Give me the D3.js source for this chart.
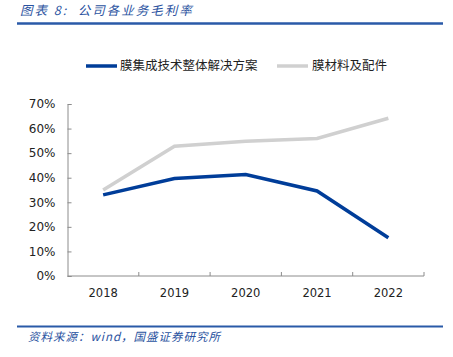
<!DOCTYPE html>
<html><head><meta charset="utf-8">
<script src="https://cdn.jsdelivr.net/npm/d3@7"></script>
<style>body{margin:0;background:#fff;}svg{display:block;}</style>
</head><body>
<script>
const years = ["2018","2019","2020","2021","2022"];
const membraneSolution = [33.0, 39.7, 41.3, 34.6, 15.6];
const membraneMaterials = [35.0, 52.8, 54.8, 56.0, 64.2];
const seriesNames = ["膜集成技术整体解决方案","膜材料及配件"];
const yTicks = [0,10,20,30,40,50,60,70];

const W=453,H=357;
const svg=d3.select("body").append("svg").attr("width",W).attr("height",H);
const cjk='"Noto Sans CJK SC", sans-serif';
const titleFont='"Noto Sans CJK SC", "Noto Sans", sans-serif';

// title
svg.append("text").attr("x",20).attr("y",15).attr("fill","#2a52a0")
  .attr("font-family",titleFont).attr("font-size",12.5).attr("font-style","italic")
  .attr("letter-spacing",2).attr("xml:space","preserve")
  .text("图表 8:  公司各业务毛利率");
svg.append("line").attr("x1",17).attr("x2",443).attr("y1",23.5).attr("y2",23.5)
  .attr("stroke","#2a5aa8").attr("stroke-width",2.5);

const x=d3.scaleBand().domain(years).range([67.5,424]);
const y=d3.scaleLinear().domain([0,70]).range([276,104]);

const axisColor="#8c8c8c";
// y axis
const ya=svg.append("g").attr("transform","translate(67.5,0)")
  .call(d3.axisRight(y).tickValues(yTicks).tickSize(4).tickFormat(d=>d+"%"));
ya.select(".domain").attr("stroke",axisColor);
ya.selectAll(".tick line").attr("stroke",axisColor);
ya.selectAll(".tick text").attr("x",-12).attr("text-anchor","end")
  .attr("font-family","DejaVu Sans").attr("font-size",12).attr("fill","#222");

// x axis
const xa=svg.append("g").attr("transform","translate(0,276)")
  .call(d3.axisTop(x).tickSize(0));
xa.select(".domain").attr("stroke",axisColor).attr("d","M67.5,0H424");
xa.selectAll(".tick text").attr("y",17).attr("dy","0.32em")
  .attr("font-family","DejaVu Sans").attr("font-size",11.5).attr("fill","#222");
// band boundary ticks
const bounds=[...years.map(d=>x(d)),x.range()[1]].slice(1);
svg.append("g").selectAll("line").data(bounds).join("line")
  .attr("x1",d=>d).attr("x2",d=>d).attr("y1",272).attr("y2",276)
  .attr("stroke",axisColor);

const line=d3.line().x((d,i)=>x(years[i])+x.bandwidth()/2).y(d=>y(d));
const colors=["#003d99","#d0d0d0"];
svg.append("path").datum(membraneMaterials).attr("d",line).attr("fill","none")
  .attr("stroke",colors[1]).attr("stroke-width",3.5);
svg.append("path").datum(membraneSolution).attr("d",line).attr("fill","none")
  .attr("stroke",colors[0]).attr("stroke-width",3.5);

// legend
const lg=[{x:86,tx:120},{x:277,tx:312}];
seriesNames.forEach((n,i)=>{
  svg.append("line").attr("x1",lg[i].x).attr("x2",lg[i].x+31).attr("y1",66).attr("y2",66)
    .attr("stroke",colors[i]).attr("stroke-width",3.5);
  svg.append("text").attr("x",lg[i].tx).attr("y",66).attr("dy","0.35em")
    .attr("font-family",cjk).attr("font-size",12.5).attr("fill","#222").text(n);
});

// source
svg.append("line").attr("x1",17).attr("x2",443).attr("y1",326.5).attr("y2",326.5)
  .attr("stroke","#2a5aa8").attr("stroke-width",2);
svg.append("text").attr("x",28).attr("y",341).attr("fill","#2a52a0")
  .attr("font-family",titleFont).attr("font-size",11.5).attr("font-style","italic")
  .attr("letter-spacing",1)
  .text("资料来源：wind，国盛证券研究所");
</script>
</body></html>
